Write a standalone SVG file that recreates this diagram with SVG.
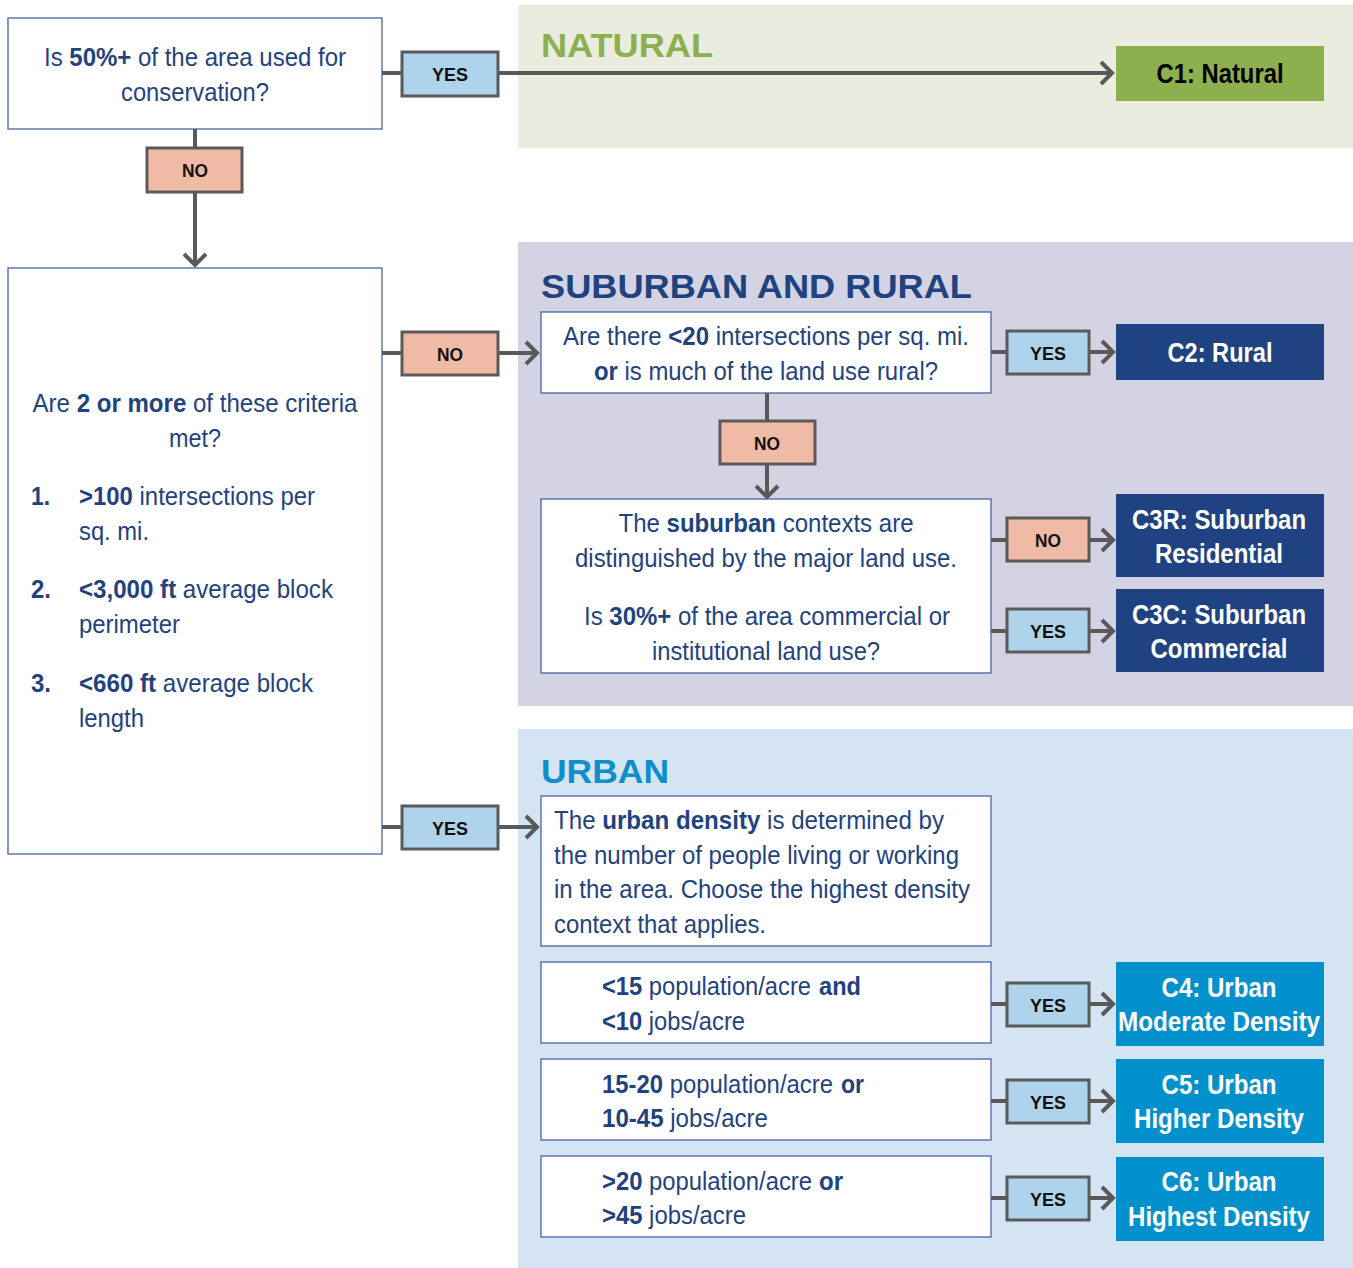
<svg xmlns="http://www.w3.org/2000/svg" width="1353" height="1268" viewBox="0 0 1353 1268">
<style>
text{font-family:"Liberation Sans",Arial,sans-serif;}
.q{fill:#fff;stroke:#4a63a0;stroke-width:1.3;}
.t{font-size:26px;fill:#1f437f;}
.b{font-weight:bold;}
.c{text-anchor:middle;}
.lbl{stroke:#5a5a5a;stroke-width:3;}
.yes{fill:#aed3ea;}
.no{fill:#f0bba6;}
.lt{font-size:19px;font-weight:bold;fill:#111;text-anchor:middle;}
.con{stroke:#595959;stroke-width:4;fill:none;marker-end:url(#chev);}
.res{font-size:27px;font-weight:bold;fill:#fff;text-anchor:middle;}
.title{font-size:34px;font-weight:bold;}
</style>
<defs>
<marker id="chev" viewBox="-15 -15 20 30" refX="0" refY="0" markerWidth="20" markerHeight="30" markerUnits="userSpaceOnUse" orient="auto" overflow="visible">
<path d="M-11,-11 L0,0 L-11,11" fill="none" stroke="#595959" stroke-width="4"/>
</marker>
</defs>

<g id="backgrounds">
<rect x="518" y="5" width="835" height="143" fill="#e9ecdf"/>
<rect x="518" y="242" width="835" height="464" fill="#d3d3e4"/>
<rect x="518" y="729" width="835" height="539" fill="#d4e4f2"/>
<text class="title" x="541" y="57" fill="#8db04f" textLength="172" lengthAdjust="spacingAndGlyphs">NATURAL</text>
<text class="title" x="541" y="298" fill="#1f437f" textLength="431" lengthAdjust="spacingAndGlyphs">SUBURBAN AND RURAL</text>
<text class="title" x="541" y="783" fill="#0d8fcb" textLength="128" lengthAdjust="spacingAndGlyphs">URBAN</text>
</g>

<g id="connectors">
<path class="con" d="M382,73 H1112"/>
<path class="con" d="M195,129 V265"/>
<path class="con" d="M382,353 H537"/>
<path class="con" d="M382,827 H537"/>
<path class="con" d="M991,352 H1113"/>
<path class="con" d="M767,393 V497"/>
<path class="con" d="M991,540 H1113"/>
<path class="con" d="M991,631 H1113"/>
<path class="con" d="M991,1004 H1113"/>
<path class="con" d="M991,1101 H1113"/>
<path class="con" d="M991,1198 H1113"/>
<g id="lbl-1"><rect class="lbl yes" x="402" y="52" width="96" height="44"/><text class="lt" x="450" y="81" textLength="36" lengthAdjust="spacingAndGlyphs">YES</text></g>
<g id="lbl-2"><rect class="lbl no" x="147" y="148" width="95" height="44"/><text class="lt" x="195" y="177" textLength="26" lengthAdjust="spacingAndGlyphs">NO</text></g>
<g id="lbl-3"><rect class="lbl no" x="402" y="332" width="96" height="43"/><text class="lt" x="450" y="361" textLength="26" lengthAdjust="spacingAndGlyphs">NO</text></g>
<g id="lbl-4"><rect class="lbl yes" x="402" y="806" width="96" height="43"/><text class="lt" x="450" y="835" textLength="36" lengthAdjust="spacingAndGlyphs">YES</text></g>
<g id="lbl-5"><rect class="lbl yes" x="1007" y="331" width="82" height="43"/><text class="lt" x="1048" y="360" textLength="36" lengthAdjust="spacingAndGlyphs">YES</text></g>
<g id="lbl-6"><rect class="lbl no" x="720" y="421" width="95" height="43"/><text class="lt" x="767" y="450" textLength="26" lengthAdjust="spacingAndGlyphs">NO</text></g>
<g id="lbl-7"><rect class="lbl no" x="1007" y="518" width="82" height="43"/><text class="lt" x="1048" y="547" textLength="26" lengthAdjust="spacingAndGlyphs">NO</text></g>
<g id="lbl-8"><rect class="lbl yes" x="1007" y="609" width="82" height="43"/><text class="lt" x="1048" y="638" textLength="36" lengthAdjust="spacingAndGlyphs">YES</text></g>
<g id="lbl-9"><rect class="lbl yes" x="1007" y="983" width="82" height="43"/><text class="lt" x="1048" y="1012" textLength="36" lengthAdjust="spacingAndGlyphs">YES</text></g>
<g id="lbl-10"><rect class="lbl yes" x="1007" y="1080" width="82" height="43"/><text class="lt" x="1048" y="1109" textLength="36" lengthAdjust="spacingAndGlyphs">YES</text></g>
<g id="lbl-11"><rect class="lbl yes" x="1007" y="1177" width="82" height="43"/><text class="lt" x="1048" y="1206" textLength="36" lengthAdjust="spacingAndGlyphs">YES</text></g>
</g>

<g id="q-conservation">
<rect class="q" x="8" y="18" width="374" height="111"/>
<text class="t c" x="195" y="66" textLength="302" lengthAdjust="spacingAndGlyphs">Is <tspan class="b">50%+</tspan> of the area used for</text>
<text class="t c" x="195" y="101" textLength="148" lengthAdjust="spacingAndGlyphs">conservation?</text>
</g>

<g id="q-criteria">
<rect class="q" x="8" y="268" width="374" height="586"/>
<text class="t c" x="195" y="412" textLength="325" lengthAdjust="spacingAndGlyphs">Are <tspan class="b">2 or more</tspan> of these criteria</text>
<text class="t c" x="195" y="447" textLength="52" lengthAdjust="spacingAndGlyphs">met?</text>
<text class="t b" x="31" y="505" textLength="19" lengthAdjust="spacingAndGlyphs">1.</text>
<text class="t" x="79" y="505" textLength="236" lengthAdjust="spacingAndGlyphs"><tspan class="b">&gt;100</tspan> intersections per</text>
<text class="t" x="79" y="540" textLength="70" lengthAdjust="spacingAndGlyphs">sq. mi.</text>
<text class="t b" x="31" y="598" textLength="20" lengthAdjust="spacingAndGlyphs">2.</text>
<text class="t" x="79" y="598" textLength="254" lengthAdjust="spacingAndGlyphs"><tspan class="b">&lt;3,000 ft</tspan> average block</text>
<text class="t" x="79" y="633" textLength="101" lengthAdjust="spacingAndGlyphs">perimeter</text>
<text class="t b" x="31" y="692" textLength="20" lengthAdjust="spacingAndGlyphs">3.</text>
<text class="t" x="79" y="692" textLength="234" lengthAdjust="spacingAndGlyphs"><tspan class="b">&lt;660 ft</tspan> average block</text>
<text class="t" x="79" y="727" textLength="65" lengthAdjust="spacingAndGlyphs">length</text>
</g>

<g id="q-rural">
<rect class="q" x="541" y="312" width="450" height="81"/>
<text class="t c" x="766" y="345" textLength="406" lengthAdjust="spacingAndGlyphs">Are there <tspan class="b">&lt;20</tspan> intersections per sq. mi.</text>
<text class="t c" x="766" y="380" textLength="344" lengthAdjust="spacingAndGlyphs"><tspan class="b">or</tspan> is much of the land use rural?</text>
</g>

<g id="q-suburban">
<rect class="q" x="541" y="499" width="450" height="174"/>
<text class="t c" x="766" y="532" textLength="295" lengthAdjust="spacingAndGlyphs">The <tspan class="b">suburban</tspan> contexts are</text>
<text class="t c" x="766" y="567" textLength="382" lengthAdjust="spacingAndGlyphs">distinguished by the major land use.</text>
<text class="t c" x="767" y="625" textLength="366" lengthAdjust="spacingAndGlyphs">Is <tspan class="b">30%+</tspan> of the area commercial or</text>
<text class="t c" x="766" y="660" textLength="228" lengthAdjust="spacingAndGlyphs">institutional land use?</text>
</g>

<g id="q-urban">
<rect class="q" x="541" y="796" width="450" height="150"/>
<text class="t" x="554" y="829" textLength="390" lengthAdjust="spacingAndGlyphs">The <tspan class="b">urban density</tspan> is determined by</text>
<text class="t" x="554" y="864" textLength="405" lengthAdjust="spacingAndGlyphs">the number of people living or working</text>
<text class="t" x="554" y="898" textLength="416" lengthAdjust="spacingAndGlyphs">in the area. Choose the highest density</text>
<text class="t" x="554" y="933" textLength="212" lengthAdjust="spacingAndGlyphs">context that applies.</text>
</g>

<g id="q-moderate">
<rect class="q" x="541" y="962" width="450" height="81"/>
<text class="t" x="602" y="995" textLength="209" lengthAdjust="spacingAndGlyphs"><tspan class="b">&lt;15</tspan> population/acre</text>
<text class="t b" x="819" y="995" textLength="42" lengthAdjust="spacingAndGlyphs">and</text>
<text class="t" x="602" y="1030" textLength="143" lengthAdjust="spacingAndGlyphs"><tspan class="b">&lt;10</tspan> jobs/acre</text>
</g>

<g id="q-higher">
<rect class="q" x="541" y="1059" width="450" height="81"/>
<text class="t" x="602" y="1093" textLength="231" lengthAdjust="spacingAndGlyphs"><tspan class="b">15-20</tspan> population/acre</text>
<text class="t b" x="841" y="1093" textLength="23" lengthAdjust="spacingAndGlyphs">or</text>
<text class="t" x="602" y="1127" textLength="166" lengthAdjust="spacingAndGlyphs"><tspan class="b">10-45</tspan> jobs/acre</text>
</g>

<g id="q-highest">
<rect class="q" x="541" y="1156" width="450" height="81"/>
<text class="t" x="602" y="1190" textLength="210" lengthAdjust="spacingAndGlyphs"><tspan class="b">&gt;20</tspan> population/acre</text>
<text class="t b" x="819" y="1190" textLength="24" lengthAdjust="spacingAndGlyphs">or</text>
<text class="t" x="602" y="1224" textLength="144" lengthAdjust="spacingAndGlyphs"><tspan class="b">&gt;45</tspan> jobs/acre</text>
</g>

<g id="c1">
<rect x="1116" y="46" width="208" height="55" fill="#8db04f"/>
<text class="res" x="1220" y="83" style="fill:#000" textLength="127" lengthAdjust="spacingAndGlyphs">C1: Natural</text>
</g>
<g id="c2">
<rect x="1116" y="324" width="208" height="56" fill="#1f4382"/>
<text class="res" x="1220" y="362" textLength="105" lengthAdjust="spacingAndGlyphs">C2: Rural</text>
</g>
<g id="c3r">
<rect x="1116" y="494" width="208" height="83" fill="#1f4382"/>
<text class="res" x="1219" y="529" textLength="174" lengthAdjust="spacingAndGlyphs">C3R: Suburban</text>
<text class="res" x="1219" y="563" textLength="128" lengthAdjust="spacingAndGlyphs">Residential</text>
</g>
<g id="c3c">
<rect x="1116" y="589" width="208" height="83" fill="#1f4382"/>
<text class="res" x="1219" y="624" textLength="174" lengthAdjust="spacingAndGlyphs">C3C: Suburban</text>
<text class="res" x="1219" y="658" textLength="137" lengthAdjust="spacingAndGlyphs">Commercial</text>
</g>
<g id="c4">
<rect x="1116" y="962" width="208" height="84" fill="#0391cd"/>
<text class="res" x="1219" y="997" textLength="115" lengthAdjust="spacingAndGlyphs">C4: Urban</text>
<text class="res" x="1219" y="1031" textLength="202" lengthAdjust="spacingAndGlyphs">Moderate Density</text>
</g>
<g id="c5">
<rect x="1116" y="1059" width="208" height="84" fill="#0391cd"/>
<text class="res" x="1219" y="1094" textLength="115" lengthAdjust="spacingAndGlyphs">C5: Urban</text>
<text class="res" x="1219" y="1128" textLength="170" lengthAdjust="spacingAndGlyphs">Higher Density</text>
</g>
<g id="c6">
<rect x="1116" y="1157" width="208" height="84" fill="#0391cd"/>
<text class="res" x="1219" y="1191" textLength="115" lengthAdjust="spacingAndGlyphs">C6: Urban</text>
<text class="res" x="1219" y="1226" textLength="182" lengthAdjust="spacingAndGlyphs">Highest Density</text>
</g>
</svg>
